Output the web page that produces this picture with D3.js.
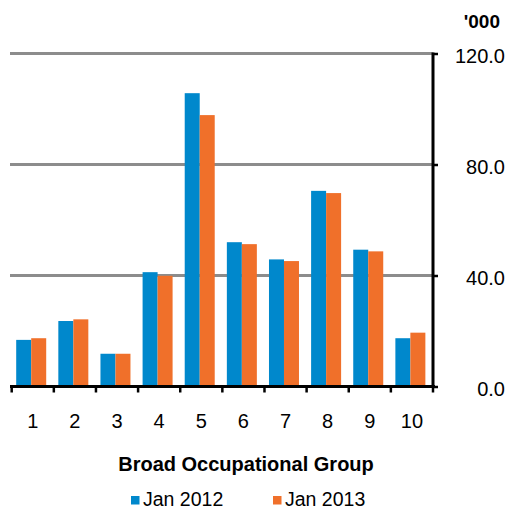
<!DOCTYPE html>
<html>
<head>
<meta charset="utf-8">
<script src="https://cdn.jsdelivr.net/npm/d3@7"></script>
<style>
  body { margin: 0; background: #fff; }
  text { font-family: "Liberation Sans", Arial, sans-serif; }
</style>
</head>
<body>
<div id="mainvis"></div>
<script>
let groups = ["1", "2", "3", "4", "5", "6", "7", "8", "9", "10"];
let jan2012 = [16.8, 23.6, 11.8, 41.2, 105.7, 52.0, 45.8, 70.5, 49.3, 17.4];
let jan2013 = [17.4, 24.2, 11.8, 39.9, 97.8, 51.3, 45.2, 69.7, 48.7, 19.4];
let seriesNames = ["Jan 2012", "Jan 2013"];
let seriesColors = ["#0088cc", "#f0702a"];
let yTicks = [0, 40, 80, 120];

let svg = d3.select("#mainvis")
    .append("svg")
    .attr("width", 506)
    .attr("height", 510);

let plotLeft = 11.7, plotRight = 433, plotTop = 53.5, plotBottom = 386.5;

let xScale = d3.scaleBand()
    .domain(groups)
    .range([plotLeft, plotRight]);

let subScale = d3.scaleBand()
    .domain(seriesNames)
    .range([4.5, 34.5]);

let yScale = d3.scaleLinear()
    .domain([0, 120])
    .range([plotBottom, plotTop]);

// gridlines
svg.append("g")
    .selectAll("line")
    .data(yTicks.filter(d => d > 0))
    .enter()
    .append("line")
    .attr("x1", 10)
    .attr("x2", plotRight)
    .attr("y1", d => yScale(d))
    .attr("y2", d => yScale(d))
    .style("stroke", "#8c8c8c")
    .style("stroke-width", 3);

// bars
let data = groups.map((g, i) => ({group: g, values: [jan2012[i], jan2013[i]]}));

let grp = svg.selectAll(".grp")
    .data(data)
    .enter()
    .append("g")
    .attr("class", "grp")
    .attr("transform", d => "translate(" + xScale(d.group) + ",0)");

grp.selectAll("rect")
    .data(d => d.values.map((v, j) => ({name: seriesNames[j], value: v, color: seriesColors[j]})))
    .enter()
    .append("rect")
    .attr("x", d => subScale(d.name))
    .attr("width", subScale.bandwidth())
    .attr("y", d => yScale(d.value))
    .attr("height", d => plotBottom - yScale(d.value))
    .style("fill", d => d.color);

// x axis
let xg = svg.append("g")
    .attr("transform", "translate(0," + plotBottom + ")");
xg.append("line")
    .attr("x1", 10)
    .attr("x2", plotRight + 2)
    .style("stroke", "#000")
    .style("stroke-width", 3);
xg.selectAll(".xtick")
    .data(groups.concat(["end"]))
    .enter()
    .append("line")
    .attr("x1", (d, i) => plotLeft + i * xScale.step())
    .attr("x2", (d, i) => plotLeft + i * xScale.step())
    .attr("y1", 0)
    .attr("y2", 6)
    .style("stroke", "#000")
    .style("stroke-width", 2.5);
xg.selectAll(".xlabel")
    .data(groups)
    .enter()
    .append("text")
    .attr("x", d => xScale(d) + xScale.bandwidth() / 2)
    .attr("y", 41.5)
    .attr("text-anchor", "middle")
    .style("font-size", "20px")
    .text(d => d);

// y axis on the right
let yAxis = d3.axisRight(yScale)
    .tickValues(yTicks)
    .tickSize(5)
    .tickFormat(d3.format(".1f"));

let yg = svg.append("g")
    .attr("transform", "translate(" + plotRight + ",0)")
    .call(yAxis);
yg.select(".domain")
    .attr("d", "M0," + (plotTop - 1) + "V" + (plotBottom + 1))
    .style("stroke", "#000")
    .style("stroke-width", 3);
yg.selectAll(".tick line")
    .style("stroke", "#000")
    .style("stroke-width", 2.5);
yg.selectAll(".tick text")
    .attr("x", 72)
    .attr("dy", "0.47em")
    .attr("text-anchor", "end")
    .style("font-family", "'Liberation Sans', Arial, sans-serif")
    .style("font-size", "20px")
    .style("fill", "#000");

svg.append("text")
    .attr("x", 500)
    .attr("y", 28)
    .attr("text-anchor", "end")
    .style("font-size", "19px")
    .style("font-weight", "bold")
    .text("'000");

// axis title
svg.append("text")
    .attr("x", 246)
    .attr("y", 471)
    .attr("text-anchor", "middle")
    .style("font-size", "20px")
    .style("font-weight", "bold")
    .text("Broad Occupational Group");

// legend
let legendX = [131, 273];
let legend = svg.selectAll(".legend")
    .data(seriesNames)
    .enter()
    .append("g")
    .attr("class", "legend")
    .attr("transform", (d, i) => "translate(" + legendX[i] + ",496)");
legend.append("rect")
    .attr("width", 8.5)
    .attr("height", 8.5)
    .style("fill", (d, i) => seriesColors[i]);
legend.append("text")
    .attr("x", 12)
    .attr("y", 9.5)
    .style("font-size", "19.5px")
    .text(d => d);
</script>
</body>
</html>
